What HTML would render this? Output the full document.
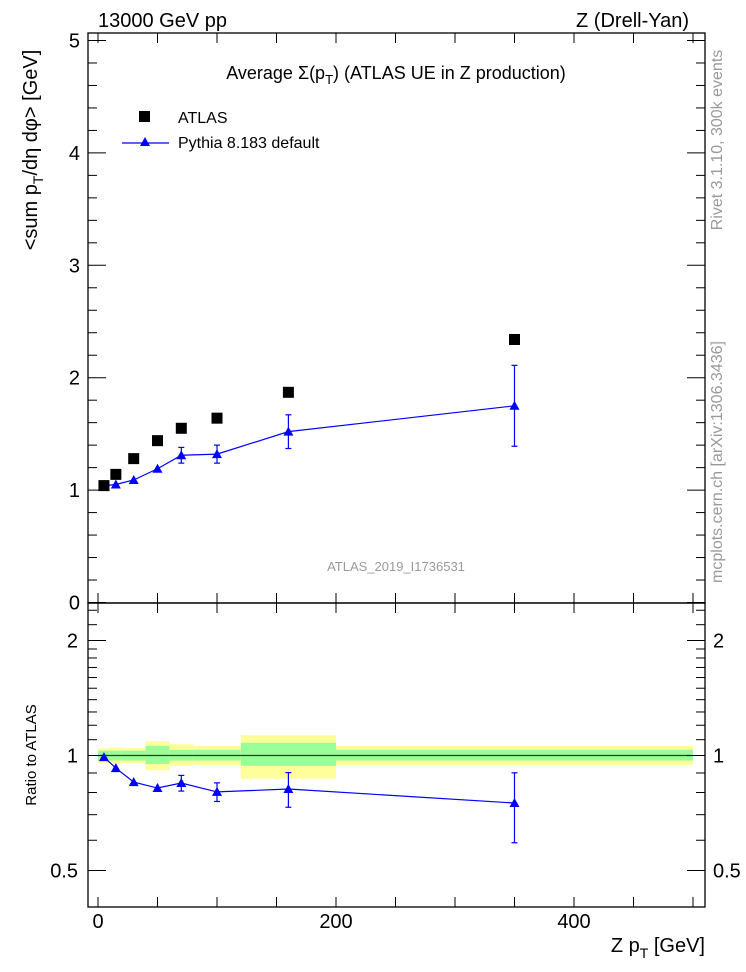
<!DOCTYPE html>
<html><head><meta charset="utf-8"><style>
body{margin:0;background:#fff;}
svg{display:block;font-family:"Liberation Sans",sans-serif;}
</style></head><body>
<svg id="c" width="746" height="972" viewBox="0 0 746 972" xmlns="http://www.w3.org/2000/svg">
<g id="bands"></g><g id="grid"></g><g id="marks"></g>
<text x="98" y="27" font-size="20">13000 GeV pp</text>
<text x="689" y="27" font-size="20" text-anchor="end">Z (Drell-Yan)</text>
<text x="396" y="79" font-size="18" text-anchor="middle">Average Σ(p<tspan font-size="13" dy="5">T</tspan><tspan dy="-5">) (ATLAS UE in Z production)</tspan></text>
<rect x="139" y="111" width="11" height="11" fill="#000"/>
<text x="178" y="123" font-size="16">ATLAS</text>
<line x1="122" y1="143" x2="169" y2="143" stroke="#00f" stroke-width="1.2"/>
<polygon points="145,137 140,146 150,146" fill="#00f"/>
<text x="178" y="148" font-size="16">Pythia 8.183 default</text>
<text x="396" y="571" font-size="13" fill="#999" text-anchor="middle">ATLAS_2019_I1736531</text>
<text transform="translate(37,150) rotate(-90)" font-size="20" text-anchor="middle">&lt;sum p<tspan font-size="14" dy="6">T</tspan><tspan dy="-6">/dη dφ&gt; [GeV]</tspan></text>
<text transform="translate(36,755) rotate(-90)" font-size="15" text-anchor="middle">Ratio to ATLAS</text>
<text transform="translate(722,140) rotate(-90)" font-size="16" fill="#999" text-anchor="middle">Rivet 3.1.10, 300k events</text>
<text transform="translate(722,462) rotate(-90)" font-size="16" fill="#999" text-anchor="middle">mcplots.cern.ch [arXiv:1306.3436]</text>
<text x="705" y="952" font-size="20" text-anchor="end">Z p<tspan font-size="14" dy="6">T</tspan><tspan dy="-6"> [GeV]</tspan></text>
</svg>
<script>
const xVals=[5,15,30,50,70,100,160,350];
const atlasVals=[1.04,1.14,1.28,1.44,1.55,1.64,1.87,2.34];
const pyVals=[1.04,1.05,1.09,1.19,1.31,1.32,1.52,1.75];
const pyErr=[0.01,0.01,0.02,0.03,0.07,0.08,0.15,0.36];
const ratioVals=[0.99,0.927,0.852,0.822,0.847,0.803,0.817,0.751];
const ratioErrLo=[0.01,0.01,0.01,0.015,0.04,0.045,0.085,0.16];
const ratioErrHi=[0.01,0.01,0.01,0.015,0.04,0.045,0.085,0.15];
const binEdges=[0,10,20,40,60,80,120,200,500];
const yelLo=[0.955,0.95,0.955,0.915,0.94,0.945,0.87,0.945];
const yelHi=[1.045,1.05,1.045,1.09,1.07,1.06,1.13,1.06];
const grnLo=[0.97,0.97,0.97,0.95,0.97,0.97,0.94,0.97];
const grnHi=[1.03,1.03,1.03,1.06,1.035,1.035,1.08,1.035];
const yTicks=[0,1,2,3,4,5];
const rTicks=[0.5,1,2];
const xTicks=[0,200,400];
const L=88,R=705,T=33,M=603,B=907;
const X=v=>98+v*1.19;
const Y=v=>602.5-v*112.4;
const RY=r=>755.5-115*Math.log2(r);
const NS="http://www.w3.org/2000/svg";
function mk(tag,attrs,parent){const e=document.createElementNS(NS,tag);for(const k in attrs)e.setAttribute(k,attrs[k]);document.getElementById(parent).appendChild(e);return e;}
for(let i=0;i<binEdges.length-1;i++){
 const y=mk('rect',{x:X(binEdges[i]),y:RY(yelHi[i]),width:X(binEdges[i+1])-X(binEdges[i]),height:RY(yelLo[i])-RY(yelHi[i]),fill:'#ffff99'},'bands');
 
 
 const g=mk('rect',{x:X(binEdges[i]),y:RY(grnHi[i]),width:X(binEdges[i+1])-X(binEdges[i]),height:RY(grnLo[i])-RY(grnHi[i]),fill:'#99ff99'},'bands');
 
 
}
const one=mk('line',{x1:X(binEdges[0]),x2:X(binEdges[binEdges.length-1]),y1:RY(1),y2:RY(1),stroke:'#333','stroke-width':1.2},'bands');


for(const [y1,y2,n] of [[T,M,'main-frame'],[M,B,'ratio-frame']]){
 const f=mk('rect',{x:L,y:y1,width:R-L,height:y2-y1,fill:'none',stroke:'#000','stroke-width':1.3},'grid');
 
 
}
function tick(x1,y1,x2,y2){mk('line',{x1,y1,x2,y2,stroke:'#000','stroke-width':1},'grid');}
for(let v=0;v<=500;v+=50){const x=X(v);tick(x,T,x,T+10);tick(x,M,x,M-10);tick(x,M,x,M+10);tick(x,B,x,B-10);}
for(let v=0;v<=5.001;v+=0.2){const y=Y(v);if(y<T)continue;const maj=Math.abs(v-Math.round(v))<1e-6;const l=maj?18:9;tick(L,y,L+l,y);tick(R,y,R-l,y);}
const rMin=[0.4,0.5,0.6,0.7,0.8,0.9,1,1.1,1.2,1.3,1.4,1.5,1.6,1.7,1.8,1.9,2,2.2,2.4];
for(const r of rMin){const y=RY(r);if(y<M||y>B)continue;const maj=rTicks.includes(r);const l=maj?18:9;tick(L,y,L+l,y);tick(R,y,R-l,y);}
for(const v of yTicks){const t=mk('text',{x:80,y:Y(v)+7,'font-size':20,'text-anchor':'end'},'grid');t.textContent=v;
 
 }
for(const r of rTicks){const t=mk('text',{x:78,y:RY(r)+7,'font-size':20,'text-anchor':'end'},'grid');t.textContent=r;
 
 
 const t2=mk('text',{x:713,y:RY(r)+7,'font-size':20},'grid');t2.textContent=r;
 
 }
for(const v of xTicks){const t=mk('text',{x:X(v),y:928,'font-size':20,'text-anchor':'middle'},'grid');t.textContent=v;
 
 }
function series(vals,yf,elo,ehi,name){
 const p=mk('polyline',{points:xVals.map((x,i)=>X(x)+','+yf(vals[i])).join(' '),fill:'none',stroke:'#00f','stroke-width':1.2},'marks');
 
 
 xVals.forEach((x,i)=>{
  const cx=X(x),cy=yf(vals[i]),y1=yf(vals[i]+ehi[i]),y2=yf(vals[i]-elo[i]);
  if(y2-y1>8){mk('line',{x1:cx,x2:cx,y1,y2,stroke:'#00f','stroke-width':1.2},'marks');
   mk('line',{x1:cx-3,x2:cx+3,y1,y2:y1,stroke:'#00f','stroke-width':1.2},'marks');
   mk('line',{x1:cx-3,x2:cx+3,y1:y2,y2,stroke:'#00f','stroke-width':1.2},'marks');}
  const m=mk('polygon',{points:`${cx},${cy-5} ${cx-5},${cy+4} ${cx+5},${cy+4}`,fill:'#00f'},'marks');
  
  
 });
}
series(pyVals,Y,pyErr,pyErr,'pythia');
series(ratioVals,RY,ratioErrLo,ratioErrHi,'ratio');
xVals.forEach((x,i)=>{
 const s=mk('rect',{x:X(x)-5.5,y:Y(atlasVals[i])-5.5,width:11,height:11,fill:'#000'},'marks');
 
 
});
</script>
</body></html>
